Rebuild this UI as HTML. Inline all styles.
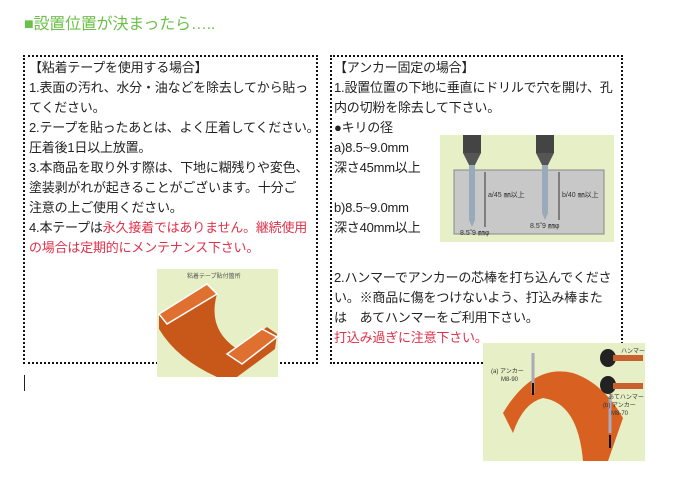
<!DOCTYPE html>
<html><head><meta charset="utf-8"><style>
body{margin:0;width:677px;height:482px;background:#fff;position:relative;overflow:hidden;font-family:"Liberation Sans","Noto Sans CJK JP",sans-serif;color:#222}
.t{position:absolute;font-size:13px;line-height:20px;white-space:nowrap;letter-spacing:-0.2px}
.r{color:#e0304a}
.box{position:absolute;border:2px dotted #111}
</style></head><body>
<div class="t" style="left:24px;top:15px;font-size:16px;color:#6cc04a">■設置位置が決まったら…..</div>
<div class="box" style="left:23px;top:55px;width:291px;height:305px"></div>
<div class="box" style="left:330px;top:55px;width:289px;height:305px"></div>
<div class="t" style="left:29px;top:58px">【粘着テープを使用する場合】<br>1.表面の汚れ、水分・油などを除去してから貼っ<br>てください。<br>2.テープを貼ったあとは、よく圧着してください。<br>圧着後1日以上放置。<br>3.本商品を取り外す際は、下地に糊残りや変色、<br>塗装剥がれが起きることがございます。十分ご<br>注意の上ご使用ください。<br>4.本テープは<span class="r">永久接着ではありません。継続使用</span><br><span class="r">の場合は定期的にメンテナンス下さい。</span></div>
<div class="t" style="left:334px;top:58px">【アンカー固定の場合】<br>1.設置位置の下地に垂直にドリルで穴を開け、孔<br>内の切粉を除去して下さい。<br>●キリの径<br>a)8.5~9.0mm<br>深さ45mm以上<br><br>b)8.5~9.0mm<br>深さ40mm以上</div>
<div class="t" style="left:334px;top:268px">2.ハンマーでアンカーの芯棒を打ち込んでくださ<br>い。※商品に傷をつけないよう、打込み棒また<br>は　あてハンマーをご利用下さい。<br><span class="r">打込み過ぎに注意下さい。</span></div>
<svg style="position:absolute;left:440px;top:135px" width="174" height="107">
<rect width="174" height="107" fill="#e6efc6"/>
<rect x="14" y="35" width="150" height="64" fill="#c8c8c8" stroke="#888"/>
<rect x="23" y="0" width="18" height="18" fill="#444"/><polygon points="23,18 41,18 35,30 29,30" fill="#555"/>
<polygon points="29,30 35,30 35,85 32,92 29,85" fill="#9ab"/>
<rect x="96" y="0" width="18" height="18" fill="#444"/><polygon points="96,18 114,18 108,30 102,30" fill="#555"/>
<polygon points="102,30 108,30 108,78 105,85 102,78" fill="#9ab"/>
<line x1="45" y1="37" x2="45" y2="92" stroke="#333"/><line x1="119" y1="37" x2="119" y2="85" stroke="#333"/>
<text x="48" y="62" font-size="7" fill="#333">a/45 ㎜以上</text><text x="122" y="62" font-size="7" fill="#333">b/40 ㎜以上</text>
<text x="20" y="100" font-size="7" fill="#333">8.5˜9 ㎜φ</text><text x="90" y="93" font-size="7" fill="#333">8.5˜9 ㎜φ</text>
</svg>
<svg style="position:absolute;left:157px;top:269px" width="121" height="108">
<rect width="121" height="108" fill="#e6efc6"/>
<text x="30" y="9" font-size="6" fill="#555">粘着テープ貼付箇所</text>
<path d="M2,45 L50,15 L60,25 Q50,60 80,80 L110,58 L120,65 L118,80 L80,108 L60,108 Q20,90 2,60Z" fill="#c8581a"/>
<path d="M2,45 L50,15 L60,25 L10,55Z" fill="#e07030" stroke="#fff" stroke-width="1.5"/>
<path d="M70,85 L105,60 L120,68 L85,95Z" fill="#e07030" stroke="#fff" stroke-width="1.5"/>
</svg>
<svg style="position:absolute;left:483px;top:343px" width="162" height="118">
<rect width="162" height="118" fill="#e6efc6"/>
<path d="M20,70 Q50,20 90,30 Q120,40 140,75 L125,118 L100,118 Q95,60 60,55 Q40,60 30,90Z" fill="#d86020"/>
<line x1="50" y1="10" x2="50" y2="50" stroke="#aab" stroke-width="3"/><line x1="50" y1="40" x2="50" y2="52" stroke="#111" stroke-width="2"/>
<line x1="127" y1="55" x2="127" y2="90" stroke="#aab" stroke-width="3"/><line x1="127" y1="92" x2="127" y2="105" stroke="#111" stroke-width="2"/>
<ellipse cx="125" cy="15" rx="8" ry="9" fill="#222"/><rect x="130" y="12" width="30" height="6" fill="#c86030"/>
<ellipse cx="125" cy="42" rx="8" ry="9" fill="#222"/><rect x="130" y="40" width="30" height="6" fill="#c86030"/>
<text x="138" y="10" font-size="6" fill="#333">ハンマー</text><text x="125" y="56" font-size="6" fill="#333">あてハンマー</text>
<text x="8" y="30" font-size="6" fill="#333">(a) アンカー</text><text x="18" y="38" font-size="6" fill="#333">M8-90</text>
<text x="120" y="64" font-size="6" fill="#333">(b) アンカー</text><text x="128" y="72" font-size="6" fill="#333">M8-70</text>
</svg>
<div style="position:absolute;left:24px;top:375px;width:1px;height:16px;background:#222"></div>
</body></html>
